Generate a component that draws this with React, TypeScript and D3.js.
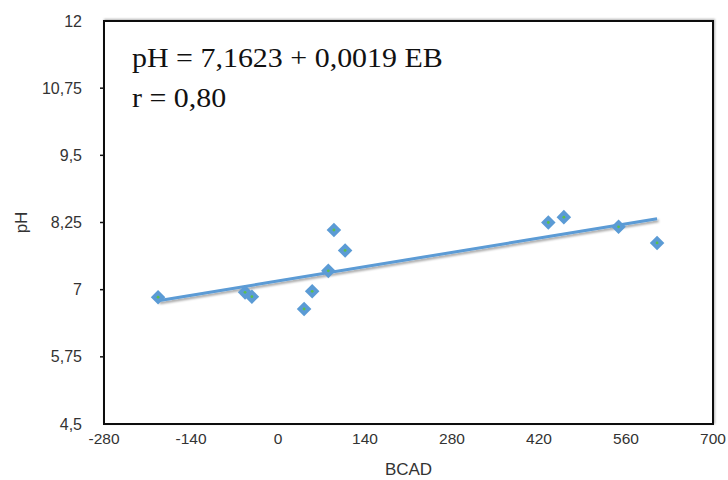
import React, { useEffect, useRef } from 'react';
import * as d3 from 'd3';

const bcad = [-193, -53, -42, 42, 55, 81, 90, 108, 435, 460, 548, 610];
const ph = [6.86, 6.95, 6.87, 6.64, 6.97, 7.35, 8.11, 7.73, 8.25, 8.35, 8.17, 7.87];

const xTicks = [-280, -140, 0, 140, 280, 420, 560, 700];
const yTicks = [4.5, 5.75, 7, 8.25, 9.5, 10.75, 12];

const intercept = 7.1623;
const slope = 0.0019;
const eqLines = ['pH = 7,1623 + 0,0019 EB', 'r = 0,80'];

const fmt = (v: number) => String(v).replace('.', ',');

const W = 728;
const H = 480;
const margin = { top: 21, right: 15, bottom: 56, left: 104 };

const App = () => {
  const svgRef = useRef<SVGSVGElement>(null);

  useEffect(() => {
    if (!svgRef.current) return;
    const svg = d3.select(svgRef.current);
    svg.selectAll('*').remove();

    const innerW = W - margin.left - margin.right;
    const innerH = H - margin.top - margin.bottom;

    const x = d3.scaleLinear().domain([-280, 700]).range([0, innerW]);
    const y = d3.scaleLinear().domain([4.5, 12]).range([innerH, 0]);

    const defs = svg.append('defs');
    const f = defs.append('filter').attr('id', 'shadow').attr('x', '-5%').attr('y', '-50%').attr('width', '110%').attr('height', '200%');
    f.append('feDropShadow').attr('dx', 1.5).attr('dy', 2).attr('stdDeviation', 1.2).attr('flood-color', '#000').attr('flood-opacity', 0.35);
    const f2 = defs.append('filter').attr('id', 'frameShadow').attr('x', '-5%').attr('y', '-5%').attr('width', '110%').attr('height', '110%');
    f2.append('feDropShadow').attr('dx', 1).attr('dy', -1).attr('stdDeviation', 0.8).attr('flood-color', '#000').attr('flood-opacity', 0.3);

    const g = svg.append('g').attr('transform', `translate(${margin.left},${margin.top})`);

    // plot frame
    g.append('rect')
      .attr('x', 0).attr('y', 0).attr('width', innerW).attr('height', innerH)
      .attr('fill', 'white').attr('stroke', '#111').attr('stroke-width', 2)
      .attr('filter', 'url(#frameShadow)');

    // y axis ticks + labels
    g.selectAll('.ytick').data(yTicks.slice(1, -1)).join('line')
      .attr('x1', -4).attr('x2', 0)
      .attr('y1', d => y(d)).attr('y2', d => y(d))
      .attr('stroke', '#111').attr('stroke-width', 1.5);
    g.selectAll('.ylab').data(yTicks).join('text')
      .attr('x', -22).attr('y', d => y(d)).attr('dy', '0.35em')
      .attr('text-anchor', 'end')
      .attr('font-family', 'Liberation Sans, Arial, sans-serif').attr('font-size', 16)
      .attr('fill', '#333').text(d => fmt(d));

    g.selectAll('.xlab').data(xTicks).join('text')
      .attr('x', d => x(d)).attr('y', innerH + 15).attr('dy', '0.35em')
      .attr('text-anchor', 'middle')
      .attr('font-family', 'Liberation Sans, Arial, sans-serif').attr('font-size', 15.5)
      .attr('fill', '#333').text(d => String(d));

    // axis titles
    g.append('text')
      .attr('x', innerW / 2).attr('y', innerH + 45).attr('dy', '0.35em')
      .attr('text-anchor', 'middle')
      .attr('font-family', 'Liberation Sans, Arial, sans-serif').attr('font-size', 17)
      .attr('fill', '#333').text('BCAD');
    g.append('text')
      .attr('transform', `translate(${21 - margin.left},${innerH / 2}) rotate(-90)`)
      .attr('dy', '0.35em')
      .attr('text-anchor', 'middle')
      .attr('font-family', 'Liberation Sans, Arial, sans-serif').attr('font-size', 17)
      .attr('fill', '#333').text('pH');

    // trend line
    const xr = d3.extent(bcad) as [number, number];
    const line = d3.line<number>().x(d => x(d)).y(d => y(intercept + slope * d));
    g.append('path')
      .datum(xr)
      .attr('d', line)
      .attr('stroke', '#5B9BD5').attr('stroke-width', 3).attr('fill', 'none')
      .attr('filter', 'url(#shadow)');

    // markers
    const diamond = d3.symbol().type(d3.symbolDiamond2).size(135);
    const pts = g.selectAll('.pt').data(bcad.map((b, i) => [b, ph[i]])).join('g')
      .attr('transform', d => `translate(${x(d[0])},${y(d[1])})`);
    pts.append('path').attr('d', diamond()).attr('fill', '#5B9BD5');
    pts.append('circle').attr('r', 1.4).attr('fill', '#5cc04a');

    // equation
    g.selectAll('.eq').data(eqLines).join('text')
      .attr('transform', (d, i) => `translate(28,${46 + i * 40}) scale(1.07,1)`)
      .attr('font-family', 'Liberation Serif, Times New Roman, serif').attr('font-size', 28)
      .attr('fill', '#111').text(d => d);
  }, []);

  return (
    <div style={{ position: 'fixed', left: 0, top: 0, background: 'white' }}>
      <svg ref={svgRef} width={W} height={H} style={{ display: 'block' }} />
    </div>
  );
};

export default App;
